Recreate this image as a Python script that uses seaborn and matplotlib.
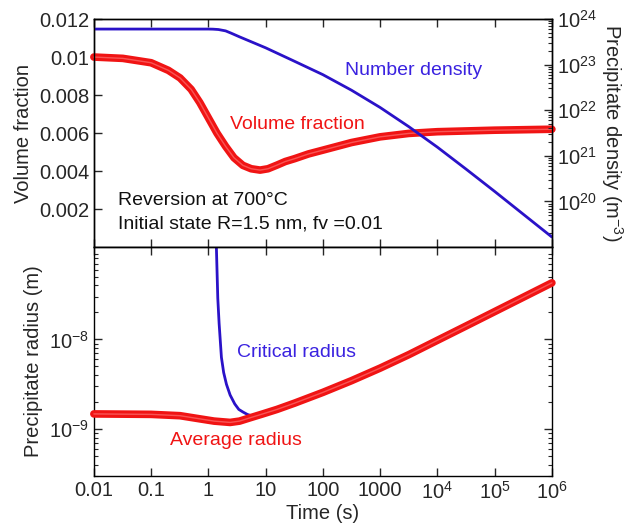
import numpy as np
import pandas as pd
import matplotlib
matplotlib.use("Agg")
import matplotlib.pyplot as plt
import matplotlib.ticker as mticker
import seaborn as sns

# Values
# Top panel: volume fraction (left axis) and number density (right axis, log)
vf_time = [0.01, 0.032, 0.1, 0.2, 0.32, 0.5, 0.71, 1.0, 1.41, 2.0, 2.8, 4.0, 5.6,
           8.0, 11, 16, 22, 32, 56, 100, 316, 1000, 3162, 1e4, 1e5, 1e6]
vf_value = [0.0100, 0.00993, 0.0097, 0.0093, 0.0089, 0.0083, 0.0076, 0.0068, 0.0060,
            0.0053, 0.0047, 0.0043, 0.00412, 0.00405, 0.00412, 0.00432, 0.0045, 0.00465,
            0.0049, 0.0051, 0.0055, 0.0058, 0.00598, 0.00607, 0.00615, 0.0062]

nd_time = [0.01, 0.1, 1.0, 1.2, 1.5, 2.0, 2.5, 3.5, 10, 30, 100, 316, 1000, 3162,
           1e4, 3.16e4, 1e5, 3.16e5, 1e6]
nd_value = [6.03e23, 6.03e23, 6.03e23, 6.0e23, 5.89e23, 5.5e23, 4.9e23, 4.07e23,
            2.34e23, 1.23e23, 6.03e22, 2.75e22, 1.15e22, 4.37e21, 1.55e21, 5.13e20,
            1.66e20, 5.25e19, 1.66e19]

# Bottom panel: precipitate radii (log)
avg_time = [0.01, 0.1, 0.32, 0.71, 1.26, 2.4, 3.5, 5.25, 8.9, 15.8, 32, 100, 316,
            1000, 3162, 1e4, 3.16e4, 1e5, 3.16e5, 1e6]
avg_radius = [1.479e-9, 1.462e-9, 1.413e-9, 1.303e-9, 1.23e-9, 1.189e-9, 1.23e-9,
              1.334e-9, 1.479e-9, 1.66e-9, 1.95e-9, 2.57e-9, 3.47e-9, 4.79e-9,
              6.76e-9, 9.77e-9, 1.41e-8, 2.04e-8, 2.95e-8, 4.27e-8]

crit_time = [1.35, 1.38, 1.42, 1.46, 1.54, 1.69, 1.85, 2.07, 2.4, 2.89, 3.4, 4.04,
             4.8, 5.65, 7.0, 10, 15.8, 32, 100, 316, 1000, 1e4, 1e5, 1e6]
crit_radius = [2e-7, 1.07e-7, 5.5e-8, 2.88e-8, 1.51e-8, 6.31e-9, 4.27e-9, 3.16e-9,
               2.4e-9, 1.91e-9, 1.66e-9, 1.55e-9, 1.46e-9, 1.41e-9, 1.43e-9, 1.48e-9,
               1.62e-9, 1.91e-9, 2.51e-9, 3.39e-9, 4.68e-9, 9.55e-9, 2.0e-8, 4.17e-8]

x_ticks = [0.01, 0.1, 1, 10, 100, 1000, 1e4, 1e5, 1e6]
x_tick_labels = ["0.01", "0.1", "1", "10", "100", "1000",
                 "$10^{4}$", "$10^{5}$", "$10^{6}$"]

RED = "#f01414"
BLUE = "#2a12c8"
BLUE_TEXT = "#3a22e0"

sns.set_style("ticks")
plt.rcParams["font.family"] = ["Liberation Sans", "DejaVu Sans"]
plt.rcParams["mathtext.default"] = "regular"
plt.rcParams["axes.linewidth"] = 1.0

FS = 14.5

df_vf = pd.DataFrame({"time": vf_time, "vf": vf_value})
df_nd = pd.DataFrame({"time": nd_time, "nd": nd_value})
df_avg = pd.DataFrame({"time": avg_time, "r": avg_radius})
df_crit = pd.DataFrame({"time": crit_time, "r": crit_radius})

fig = plt.figure(figsize=(6.3, 5.29), dpi=100)
ax_vf = fig.add_axes([0.149, 0.533, 0.727, 0.431])
ax_r = fig.add_axes([0.149, 0.100, 0.727, 0.433])
ax_nd = ax_vf.twinx()


def style_ticks(ax, **kw):
    ax.tick_params(which="major", direction="in", length=6, width=1, labelsize=FS, **kw)
    ax.tick_params(which="minor", direction="in", length=3, width=0.8, **kw)


def red_band(df, y, ax):
    # thick red band with a lighter core, like the overlapping circle markers
    sns.lineplot(data=df, x="time", y=y, ax=ax, color=RED, lw=5.5, estimator=None,
                 sort=False, solid_capstyle="round", solid_joinstyle="round",
                 clip_on=False, zorder=3)
    sns.lineplot(data=df, x="time", y=y, ax=ax, color="#ff8080", lw=1.0, estimator=None,
                 sort=False, alpha=0.6, solid_joinstyle="round", clip_on=False, zorder=4)


# ---- top panel ----
ax_vf.set_xscale("log")
red_band(df_vf, "vf", ax_vf)
ax_vf.set_xlim(0.01, 1e6)
ax_vf.set_ylim(0, 0.012)
ax_vf.set_yticks([0.002, 0.004, 0.006, 0.008, 0.01, 0.012])
ax_vf.yaxis.set_major_formatter(mticker.FormatStrFormatter("%g"))
ax_vf.set_xticks(x_ticks)
ax_vf.xaxis.set_minor_locator(mticker.NullLocator())
ax_vf.set_xticklabels([])
ax_vf.set_xlabel("")
ax_vf.set_ylabel("Volume fraction", fontsize=FS, labelpad=4)
style_ticks(ax_vf, top=True, bottom=True, left=True, right=False)

ax_nd.set_yscale("log")
sns.lineplot(data=df_nd, x="time", y="nd", ax=ax_nd, color=BLUE, lw=2,
             estimator=None, sort=False, solid_joinstyle="round")
ax_nd.set_ylim(1e19, 1e24)
ax_nd.set_xlim(0.01, 1e6)
ax_nd.set_yticks([1e20, 1e21, 1e22, 1e23, 1e24])
ax_nd.yaxis.set_major_formatter(mticker.LogFormatterMathtext())
ax_nd.yaxis.set_minor_locator(mticker.LogLocator(base=10, subs=np.arange(2, 10), numticks=20))
ax_nd.yaxis.set_minor_formatter(mticker.NullFormatter())
ax_nd.set_ylabel("Precipitate density (m$^{-3}$)", fontsize=FS, rotation=270, labelpad=20)
ax_nd.set_xlabel("")
style_ticks(ax_nd, right=True, left=False)

ax_vf.text(0.548, 0.776, "Number density", transform=ax_vf.transAxes, color=BLUE_TEXT,
           fontsize=14, va="center", ha="left")
ax_vf.text(0.297, 0.539, "Volume fraction", transform=ax_vf.transAxes, color=RED,
           fontsize=14, va="center", ha="left")
ax_vf.text(0.052, 0.206, "Reversion at 700°C", transform=ax_vf.transAxes, color="#111111",
           fontsize=14, va="center", ha="left")
ax_vf.text(0.052, 0.101, "Initial state R=1.5 nm, fv =0.01", transform=ax_vf.transAxes,
           color="#111111", fontsize=14, va="center", ha="left")

# ---- bottom panel ----
ax_r.set_xscale("log")
ax_r.set_yscale("log")
sns.lineplot(data=df_crit, x="time", y="r", ax=ax_r, color=BLUE, lw=2,
             estimator=None, sort=False, solid_joinstyle="round", zorder=2)
red_band(df_avg, "r", ax_r)
ax_r.set_xlim(0.01, 1e6)
ax_r.set_ylim(3e-10, 1.07e-7)
ax_r.set_xticks(x_ticks)
ax_r.set_xticklabels(x_tick_labels)
ax_r.xaxis.set_minor_locator(mticker.NullLocator())
ax_r.set_yticks([1e-9, 1e-8])
ax_r.yaxis.set_major_formatter(mticker.LogFormatterMathtext())
ax_r.yaxis.set_minor_locator(mticker.LogLocator(base=10, subs=np.arange(2, 10), numticks=20))
ax_r.yaxis.set_minor_formatter(mticker.NullFormatter())
ax_r.set_xlabel("Time (s)", fontsize=FS, labelpad=1)
ax_r.set_ylabel("Precipitate radius (m)", fontsize=FS, labelpad=4)
style_ticks(ax_r, top=True, bottom=True, left=True, right=True)

ax_r.text(0.312, 0.541, "Critical radius", transform=ax_r.transAxes, color=BLUE_TEXT,
          fontsize=14, va="center", ha="left")
ax_r.text(0.166, 0.157, "Average radius", transform=ax_r.transAxes, color=RED,
          fontsize=14, va="center", ha="left")

for ax in (ax_vf, ax_nd, ax_r):
    if ax.get_legend() is not None:
        ax.get_legend().remove()
    for sp in ax.spines.values():
        sp.set_visible(True)
        sp.set_color("black")

fig.savefig("out.png", dpi=100)
plt.close(fig)
